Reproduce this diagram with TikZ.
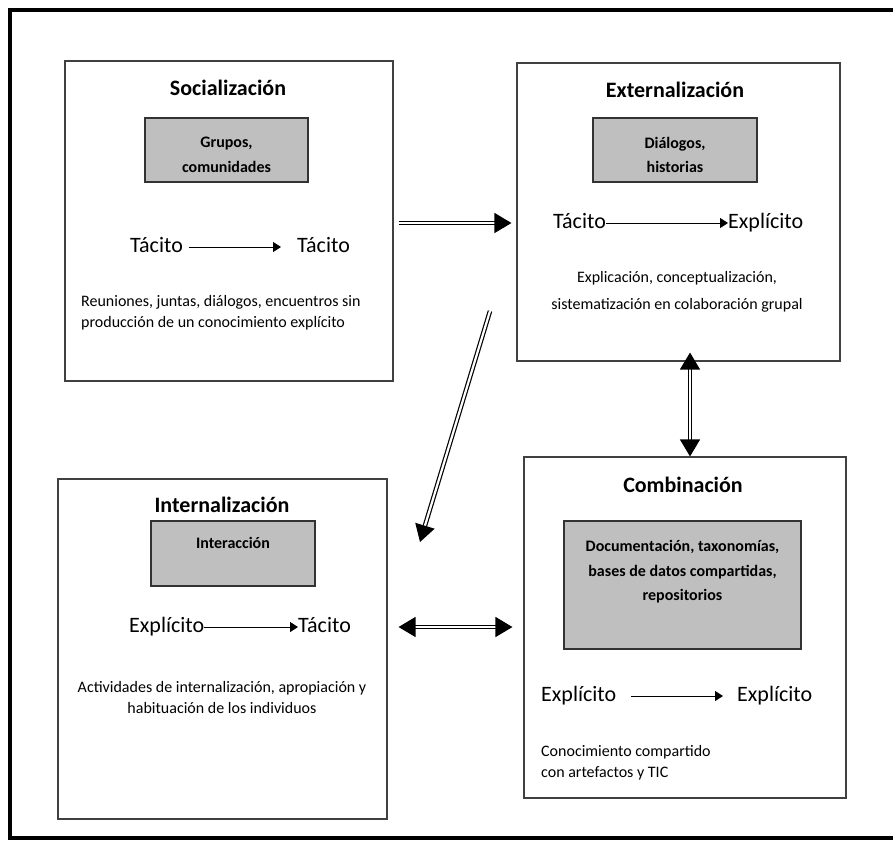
\documentclass[tikz,border=0pt]{standalone}
\usepackage{fontspec}
\setmainfont{Carlito}
\usetikzlibrary{arrows.meta}
\usetikzlibrary{positioning}
\tikzset{
    phase/.style={rectangle, draw=black!75, line width=1.1pt, fill=white},
    greybox/.style={rectangle, draw=black!80, line width=1.1pt, fill=black!25},
    title/.style={font=\fontsize{22}{26}\selectfont\bfseries, inner sep=0pt},
    kind/.style={font=\fontsize{22}{26}\selectfont, inner sep=0pt, anchor=west,
        text height=15pt, text depth=5pt},
    note/.style={font=\fontsize{16}{21}\selectfont, inner sep=0pt},
    greynote/.style={font=\fontsize{16}{24.5}\selectfont\bfseries, align=center, inner sep=0pt},
    flow/.style={line width=1pt, -{Triangle[length=8pt,width=10pt]}},
    bigflow/.style={double, double distance=2.2pt, line width=1.2pt, -{Triangle[length=17pt,width=20pt]}},
    bigflows/.style={double, double distance=2.2pt, line width=1.2pt, {Triangle[length=17pt,width=20pt]}-{Triangle[length=17pt,width=20pt]}},
}

\begin{document}
\begin{tikzpicture}[x=1pt, y=-1pt]
    \useasboundingbox (0,0) rectangle (893,841);
    \draw[line width=4pt, line join=miter] (893,9.5) -- (9.5,9.5) -- (9.5,838) -- (893,838);

    % four phases
    \node (soc) at (229,221) [phase, minimum width=328pt, minimum height=320pt] {};
    \node (ext) at (678.5,212) [phase, minimum width=323pt, minimum height=298pt] {};
    \node (int) at (222.5,649) [phase, minimum width=329pt, minimum height=340pt] {};
    \node (comb) at (685,627.5) [phase, minimum width=322pt, minimum height=341pt] {};

    % Socializacion
    \node (socT) at (228,88) [title] {Socialización};
    \node (socG) at (226.5,150) [greybox, minimum width=163pt, minimum height=64pt] {};
    \node at (226.5,155) [greynote] {Grupos,\\comunidades};
    \node (socA) at (130,247) [kind] {Tácito};
    \node (socB) at (297,247) [kind] {Tácito};
    \draw[flow, shorten <=6pt, shorten >=16pt] (socA.east) -- (socB.west);
    \node at (81,312.5) [note, anchor=west, align=left] {Reuniones, juntas, diálogos, encuentros sin\\producción de un conocimiento explícito};

    % Externalizacion
    \node (extT) at (675,90) [title] {Externalización};
    \node (extG) at (675,150) [greybox, minimum width=164pt, minimum height=64pt] {};
    \node at (675,155) [greynote] {Diálogos,\\historias};
    \node (extA) at (553,223) [kind] {Tácito};
    \node (extB) at (728,223) [kind] {Explícito};
    \draw[flow] (extA.east) -- (extB.west);
    \node at (677,291.5) [note, align=center, font=\fontsize{16}{27}\selectfont] {Explicación, conceptualización,\\sistematización en colaboración grupal};

    % Internalizacion
    \node (intT) at (222,505) [title] {Internalización};
    \node (intG) at (233,553.5) [greybox, minimum width=164pt, minimum height=65pt] {};
    \node at (233,543) [greynote] {Interacción};
    \node (intA) at (129,627) [kind] {Explícito};
    \node (intB) at (298,627) [kind] {Tácito};
    \draw[flow] (intA.east) -- (intB.west);
    \node at (222,697.5) [note, align=center] {Actividades de internalización, apropiación y\\habituación de los individuos};

    % Combinacion
    \node (combT) at (683,485) [title] {Combinación};
    \node (combG) at (682.5,585) [greybox, minimum width=237pt, minimum height=128pt] {};
    \node at (682.5,572) [greynote] {Documentación, taxonomías,\\bases de datos compartidas,\\repositorios};
    \node (combA) at (541,696) [kind] {Explícito};
    \node (combB) at (737,696) [kind] {Explícito};
    \draw[flow, shorten <=15pt, shorten >=14pt] (combA.east) -- (combB.west);
    \node at (541,762.5) [note, anchor=west, align=left] {Conocimiento compartido\\con artefactos y TIC};

    % links between phases
    \coordinate (d1) at (490,311);
    \coordinate (d2) at (420,542);
    \draw[bigflow, shorten <=5pt, shorten >=5pt] (soc.east |- extA) -- (ext.west |- extA);
    \draw[bigflow] (d1) -- (d2);
    \draw[bigflows, shorten <=11pt, shorten >=11pt] (int.east |- intA) -- (comb.west |- intA);
    \draw[bigflows, shorten <=-9pt] ([xshift=5pt]comb.north |- ext.south) -- ([xshift=5pt]comb.north);
\end{tikzpicture}
\end{document}
